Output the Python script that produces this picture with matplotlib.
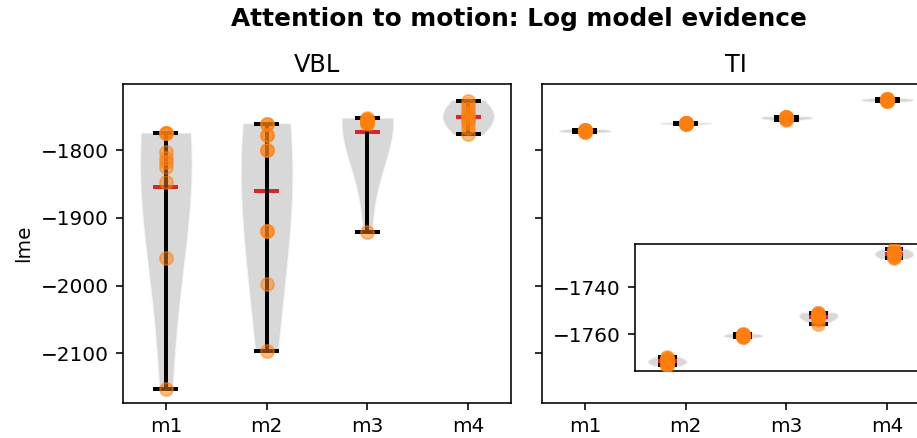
import numpy as np
import matplotlib.pyplot as plt

models = ['m1', 'm2', 'm3', 'm4']

# log model evidence per subject, VBL
vbl_m1 = [-1775, -1775, -1775, -1803, -1812, -1818, -1825, -1847, -1959, -2152]
vbl_m2 = [-1761, -1761, -1777, -1777, -1800, -1800, -1920, -1920, -1997, -2096]
vbl_m3 = [-1753, -1754, -1755, -1756, -1757, -1758, -1759, -1760, -1762, -1921]
vbl_m4 = [-1727, -1733, -1740, -1745, -1748, -1752, -1756, -1760, -1767, -1776]

# log model evidence per subject, TI
ti_m1 = [-1769.6, -1770.2, -1770.6, -1771.0, -1771.3, -1771.6, -1772.0, -1772.4, -1772.8, -1773.1]
ti_m2 = [-1759.7, -1760.0, -1760.2, -1760.3, -1760.4, -1760.5, -1760.6, -1760.8, -1761.0, -1761.2]
ti_m3 = [-1750.8, -1751.0, -1751.3, -1751.6, -1751.9, -1752.2, -1752.6, -1753.1, -1754.0, -1755.5]
ti_m4 = [-1723.8, -1724.3, -1724.8, -1725.2, -1725.6, -1726.0, -1726.4, -1726.8, -1727.2, -1727.6]

vbl = [vbl_m1, vbl_m2, vbl_m3, vbl_m4]
ti = [ti_m1, ti_m2, ti_m3, ti_m4]


def violins(ax, data):
    parts = ax.violinplot(data, showmeans=True, showextrema=True, bw_method=1.3)
    for b in parts['bodies']:
        b.set_facecolor('gray')
        b.set_edgecolor('lightgray')
        b.set_alpha(0.3)
    for key in ['cbars', 'cmins', 'cmaxes']:
        parts[key].set_color('k')
        parts[key].set_linewidth(2)
    parts['cmeans'].set_color('tab:red')
    parts['cmeans'].set_linewidth(2)
    for i, d in enumerate(data):
        ax.scatter(np.full(len(d), i + 1), d, color='tab:orange', alpha=0.5, s=42, zorder=3)
    ax.set_xticks(range(1, len(data) + 1))


fig = plt.figure(figsize=(917 / 144, 438 / 144), dpi=144)
ax1 = fig.add_axes([123 / 917, 35 / 438, 388 / 917, 319 / 438])
ax2 = fig.add_axes([542 / 917, 35 / 438, 388 / 917, 319 / 438], sharey=ax1)

violins(ax1, vbl)
ax1.set_xticklabels(models)
ax1.set_ylabel('lme')
ax1.set_title('VBL')

violins(ax2, ti)
ax2.set_xticklabels(models)
ax2.set_title('TI')
ax2.tick_params(labelleft=False)

# zoomed view of the TI values
ins = ax2.inset_axes([0.24, 0.1, 0.75, 0.4])
violins(ins, ti)
ins.set_xticks([])

fig.suptitle('Attention to motion: Log model evidence', fontweight='bold',
             fontsize=12.4, x=0.566, y=0.985)

fig.savefig('out.png', dpi=144)
